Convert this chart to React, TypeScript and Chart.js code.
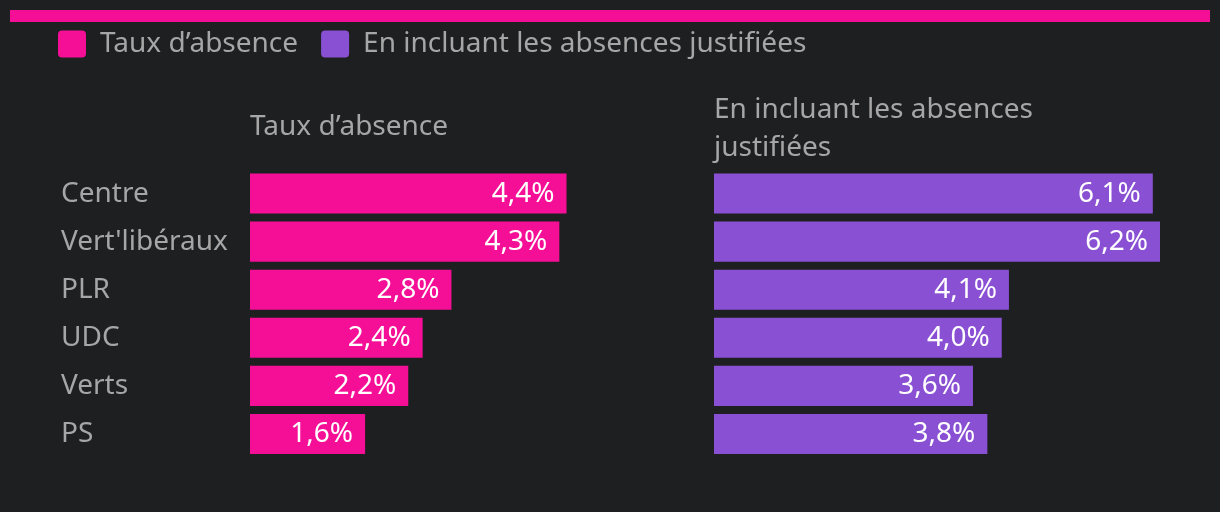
import { useEffect, useRef } from 'react';
import { Chart, registerables } from 'chart.js';

Chart.register(...registerables);

const categories = ['Centre', "Vert'libéraux", 'PLR', 'UDC', 'Verts', 'PS'];
const absenceRate = [4.4, 4.3, 2.8, 2.4, 2.2, 1.6];
const withJustified = [6.1, 6.2, 4.1, 4.0, 3.6, 3.8];
const seriesLabels = ['Taux d’absence', 'En incluant les absences justifiées'];
const leftTitle = 'Taux d’absence';
const rightTitle = ['En incluant les absences', 'justifiées'];

const BG = '#1e1f21';
const PINK = '#f50f96';
const PURPLE = '#8a50d4';
const GREY = '#a6a6a6';
const FONT = '"Noto Sans", sans-serif';
const FS = 28;

const fmt = (v: number) => v.toFixed(1).replace('.', ',') + '%';

const backdrop = {
  id: 'backdrop',
  beforeDraw(chart: any) {
    const { ctx, width, height } = chart;
    ctx.save();
    ctx.fillStyle = BG;
    ctx.fillRect(0, 0, width, height);
    ctx.fillStyle = PINK;
    ctx.fillRect(10, 10, width - 20, 12);
    ctx.restore();
  },
};

const valueLabels = {
  id: 'valueLabels',
  afterDatasetsDraw(chart: any) {
    const ctx = chart.ctx;
    ctx.save();
    ctx.font = `${FS}px ${FONT}`;
    ctx.fillStyle = '#ffffff';
    ctx.textAlign = 'right';
    ctx.textBaseline = 'middle';
    chart.data.datasets.forEach((ds: any, i: number) => {
      const meta = chart.getDatasetMeta(i);
      meta.data.forEach((el: any, j: number) => {
        ctx.fillText(fmt(ds.data[j]), el.x - 12, el.y);
      });
    });
    ctx.restore();
  },
};

export default function App() {
  const ref = useRef<HTMLCanvasElement | null>(null);

  useEffect(() => {
    if (!ref.current) return;
    Chart.defaults.font.family = FONT;
    const chart = new Chart(ref.current, {
      type: 'bar',
      data: {
        labels: categories,
        datasets: [
          {
            label: seriesLabels[0],
            data: absenceRate,
            backgroundColor: PINK,
            borderWidth: 0,
            xAxisID: 'x1',
            yAxisID: 'y',
            grouped: false,
            barPercentage: 40 / 48,
            categoryPercentage: 1,
          },
          {
            label: seriesLabels[1],
            data: withJustified,
            backgroundColor: PURPLE,
            borderWidth: 0,
            xAxisID: 'x2',
            yAxisID: 'y',
            grouped: false,
            barPercentage: 40 / 48,
            categoryPercentage: 1,
          },
        ],
      },
      options: {
        indexAxis: 'y',
        responsive: false,
        animation: false,
        layout: { padding: { top: 7, left: 35, right: 60, bottom: 54 } },
        plugins: {
          tooltip: { enabled: false },
          legend: {
            position: 'top',
            align: 'start',
            labels: {
              boxWidth: 28,
              boxHeight: 27,
              useBorderRadius: true,
              borderRadius: 4,
              padding: 23,
              color: GREY,
              font: { size: FS, family: FONT },
            },
          },
        },
        scales: {
          spacer: {
            type: 'linear',
            position: 'left',
            weight: 10,
            display: true,
            grid: { display: false },
            border: { display: false },
            ticks: { display: false },
            afterFit(s: any) {
              s.width = 26;
            },
          },
          y: {
            type: 'category',
            position: 'left',
            weight: 0,
            grid: { display: false },
            border: { display: false },
            ticks: {
              crossAlign: 'far',
              color: GREY,
              font: { size: FS, family: FONT },
            },
            afterFit(s: any) {
              s.width = 189;
            },
          },
          x1: {
            type: 'linear',
            position: 'top',
            stack: 'panels',
            stackWeight: 464,
            weight: 2,
            min: 0,
            max: 6.45,
            grid: { display: false },
            border: { display: false },
            ticks: { display: false },
            title: {
              display: true,
              text: leftTitle,
              align: 'start',
              color: GREY,
              font: { size: FS, family: FONT, lineHeight: 38 / FS },
              padding: { top: 40, bottom: 0 },
            },
          },
          x2: {
            type: 'linear',
            position: 'top',
            stack: 'panels',
            stackWeight: 446,
            weight: 1,
            min: 0,
            max: 6.2,
            grid: { display: false },
            border: { display: false },
            ticks: { display: false },
            title: {
              display: true,
              text: rightTitle,
              align: 'start',
              color: GREY,
              font: { size: FS, family: FONT, lineHeight: 38 / FS },
              padding: { top: 23, bottom: 10 },
            },
          },
        },
      } as any,
      plugins: [backdrop, valueLabels],
    });
    return () => chart.destroy();
  }, []);

  return (
    <div style={{ position: 'fixed', left: 0, top: 0, width: 1220, height: 512, background: BG }}>
      <canvas ref={ref} width={1220} height={512} style={{ display: 'block' }} />
    </div>
  );
}
